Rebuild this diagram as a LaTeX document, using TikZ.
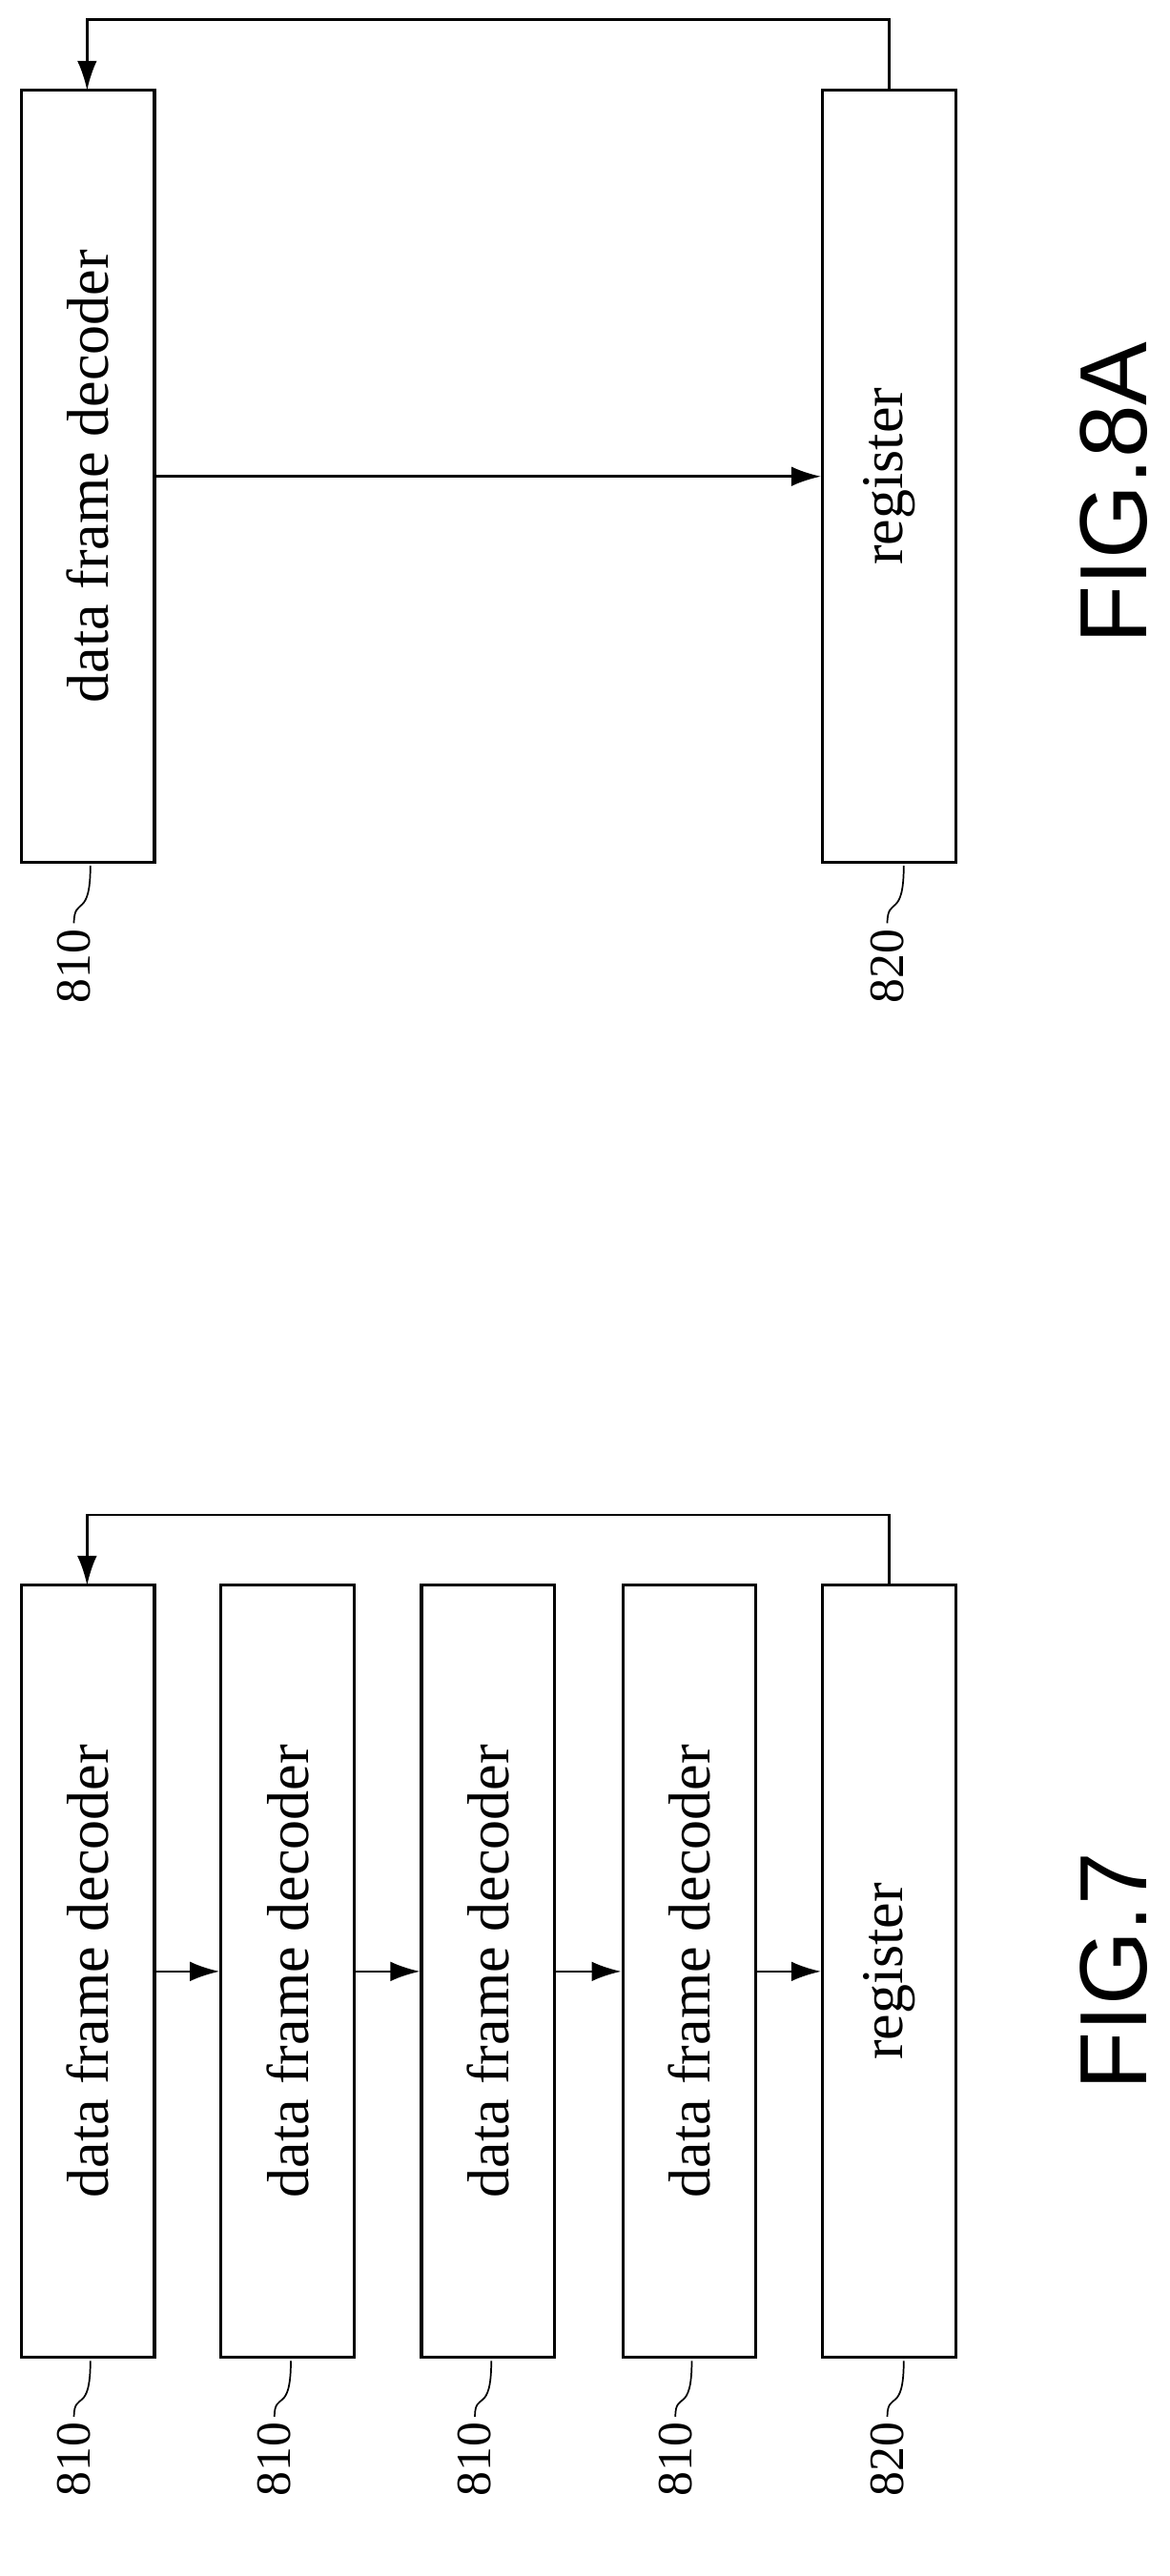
\documentclass[tikz,border=0pt]{standalone}
\usepackage{fontspec}
\setmainfont{Liberation Serif}
\newfontfamily\figfont{Liberation Sans}
\usetikzlibrary{arrows.meta}
\begin{document}
\begin{tikzpicture}[x=1pt,y=-1pt,
  blk/.style={draw,line width=1.8pt,minimum width=470pt,minimum height=81pt,rotate=90,inner sep=0pt,font=\fontsize{36}{36}\selectfont},
  con/.style={line width=1.5pt,-{Latex[length=18pt,width=12pt]}},
  lbl/.style={rotate=90,font=\fontsize{30}{30}\selectfont},
  lead/.style={line width=1pt},
  figl/.style={rotate=90,font=\figfont\fontsize{58}{58}\selectfont,inner sep=0pt}]
\useasboundingbox (0,0) rectangle (712,1568);
% FIG 8A
\node[blk] (a1) at (53.5,290) {data frame decoder};
\node[blk] (a2) at (541,290) {register};
\draw[con] (a1.south |- 0,290) -- (a2.north |- 0,290);
\coordinate (a2t) at (541,55);
\coordinate (a1t) at (53,55);
\draw[con] (a2t) -- (541,12) -- (53,12) -- (a1t);
\node[lbl] (la1) at (45,588) {810};
\node[lbl] (la2) at (540,588) {820};
\draw[lead] (la1.east) .. controls (45,545) and (55,560) .. (55,527);
\draw[lead] (la2.east) .. controls (540,545) and (550,560) .. (550,527);
\node[figl] (f8) at (678,300) {FIG.8A};
% FIG 7
\node[blk] (b1) at (53.5,1200) {data frame decoder};
\node[blk] (b2) at (175,1200) {data frame decoder};
\node[blk] (b3) at (297,1200) {data frame decoder};
\node[blk] (b4) at (419.5,1200) {data frame decoder};
\node[blk] (b5) at (541,1200) {register};
\foreach \p/\q in {b1/b2,b2/b3,b3/b4,b4/b5}
  \draw[con] (\p.south) -- (\q.north);
\coordinate (b5t) at (541,965);
\coordinate (b1t) at (53,965);
\draw[con] (b5t) -- (541,922) -- (53,922) -- (b1t);
\foreach \n/\x/\t in {1/45/810,2/167/810,3/289/810,4/411/810,5/540/820}{
  \node[lbl] (lb\n) at (\x,1497) {\t};
  \draw[lead] (lb\n.east) .. controls (\x,1455) and (\x+10,1470) .. (\x+10,1437);
}
\node[figl] (f7) at (678,1200) {FIG.7};
\end{tikzpicture}
\end{document}
